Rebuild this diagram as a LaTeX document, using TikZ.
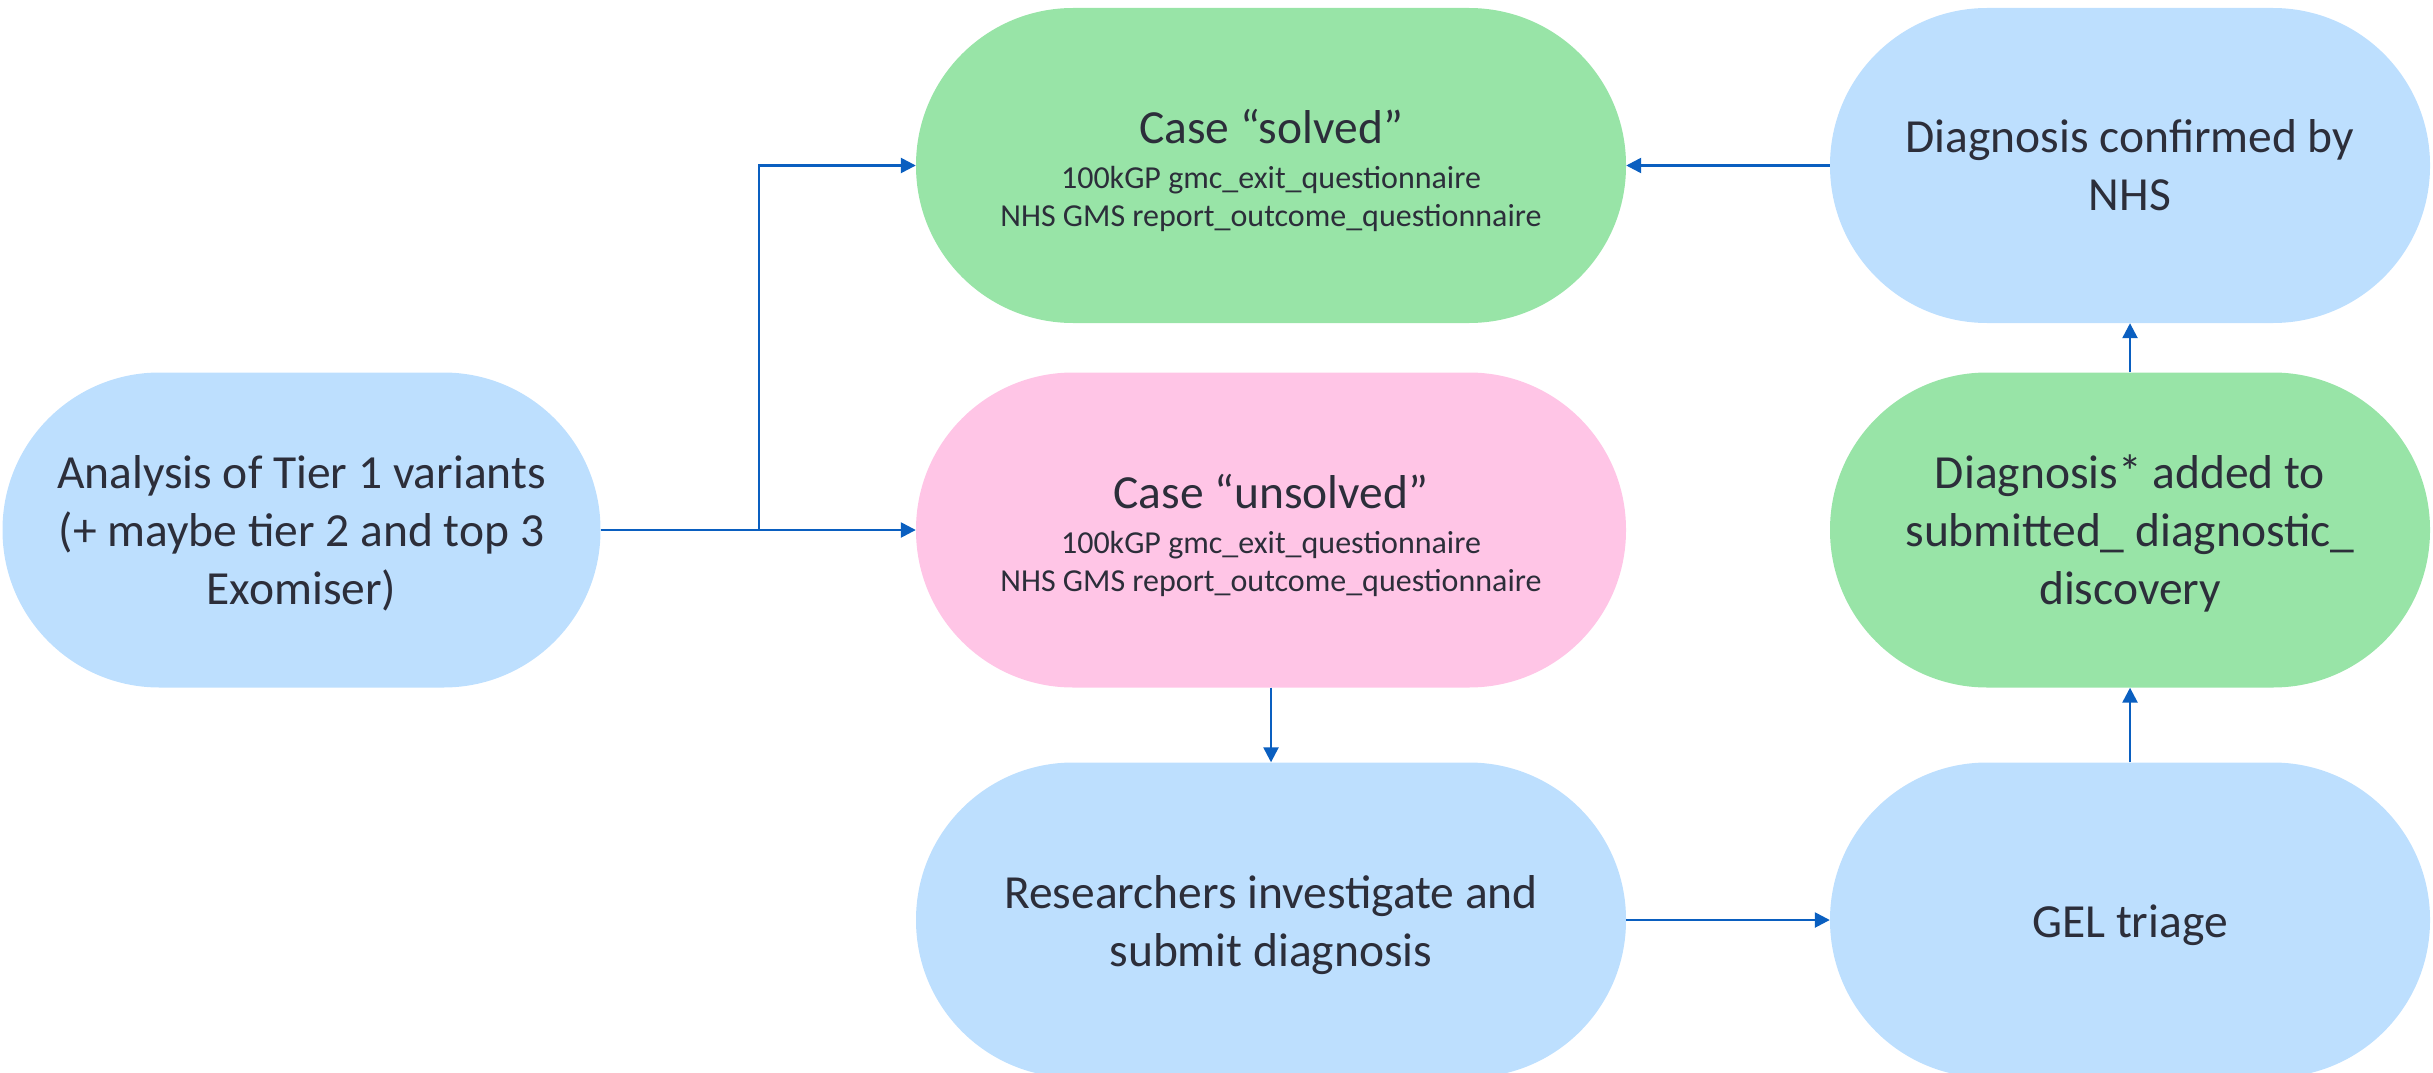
\documentclass[tikz,border=0pt]{standalone}
\usepackage{fontspec}
\setmainfont{Carlito}
\usetikzlibrary{arrows.meta}
\definecolor{bluefill}{RGB}{189,223,254}
\definecolor{greenfill}{RGB}{152,228,167}
\definecolor{pinkfill}{RGB}{255,197,230}
\definecolor{arrowc}{RGB}{10,95,192}
\definecolor{textc}{RGB}{44,46,58}
\tikzset{
  stadium/.style={rectangle, rounded corners=157pt, minimum height=315pt, inner sep=0pt, draw=none},
  wide/.style={stadium, minimum width=710pt},
  narrow/.style={stadium, minimum width=600pt},
  bigtxt/.style={anchor=base, inner sep=0pt, text=textc, font=\fontsize{47.5}{58}\selectfont},
  smalltxt/.style={anchor=base, inner sep=0pt, text=textc, font=\fontsize{32}{38}\selectfont},
  conn/.style={draw=arrowc, line width=2.5pt, -{Triangle[length=15pt,width=15pt]}},
}
\begin{document}
\begin{tikzpicture}[x=1pt,y=-1pt]
\useasboundingbox (0,0) rectangle (2433,1073);
% shapes
\node[stadium, minimum width=598pt, fill=bluefill] (ana) at (301.5,530) {};
\node[wide, fill=greenfill] (solved) at (1271,165.5) {};
\node[wide, fill=pinkfill] (unsolved) at (1271,530) {};
\node[wide, fill=bluefill] (res) at (1271,920) {};
\node[narrow, fill=bluefill] (conf) at (2130,165.5) {};
\node[narrow, fill=greenfill] (diag) at (2130,530) {};
\node[narrow, fill=bluefill] (gel) at (2130,920) {};
% texts
\node[bigtxt] (ana1) at (301.5,488) {Analysis of Tier 1 variants};
\node[bigtxt] (ana2) at (301.5,546) {(+ maybe tier 2 and top 3};
\node[bigtxt] (ana3) at (301.5,604) {Exomiser)};
\node[bigtxt] (sol1) at (1271,143) {Case “solved”};
\node[smalltxt] (sol2) at (1271,188) {100kGP gmc\_exit\_questionnaire};
\node[smalltxt] (sol3) at (1271,226) {NHS GMS report\_outcome\_questionnaire};
\node[bigtxt] (uns1) at (1271,508) {Case “unsolved”};
\node[smalltxt] (uns2) at (1271,553) {100kGP gmc\_exit\_questionnaire};
\node[smalltxt] (uns3) at (1271,591) {NHS GMS report\_outcome\_questionnaire};
\node[bigtxt] (res1) at (1271,908) {Researchers investigate and};
\node[bigtxt] (res2) at (1271,966) {submit diagnosis};
\node[bigtxt] (conf1) at (2130,152) {Diagnosis confirmed by};
\node[bigtxt] (conf2) at (2130,210) {NHS};
\node[bigtxt] (diag1) at (2130,488) {Diagnosis* added to};
\node[bigtxt] (diag2) at (2130,546) {submitted\_ diagnostic\_};
\node[bigtxt] (diag3) at (2130,604) {discovery};
\node[bigtxt] (gel1) at (2130,937) {GEL triage};
% connectors
\coordinate (junc) at (759,530);
\draw[conn] (ana.east) -- (unsolved.west);
\draw[conn] (junc) |- (solved.west);
\draw[conn] (conf.west) -- (solved.east);
\draw[conn] (unsolved.south) -- (res.north);
\draw[conn] (res.east) -- (gel.west);
\draw[conn] (gel.north) -- (diag.south);
\draw[conn] (diag.north) -- (conf.south);
\end{tikzpicture}
\end{document}
